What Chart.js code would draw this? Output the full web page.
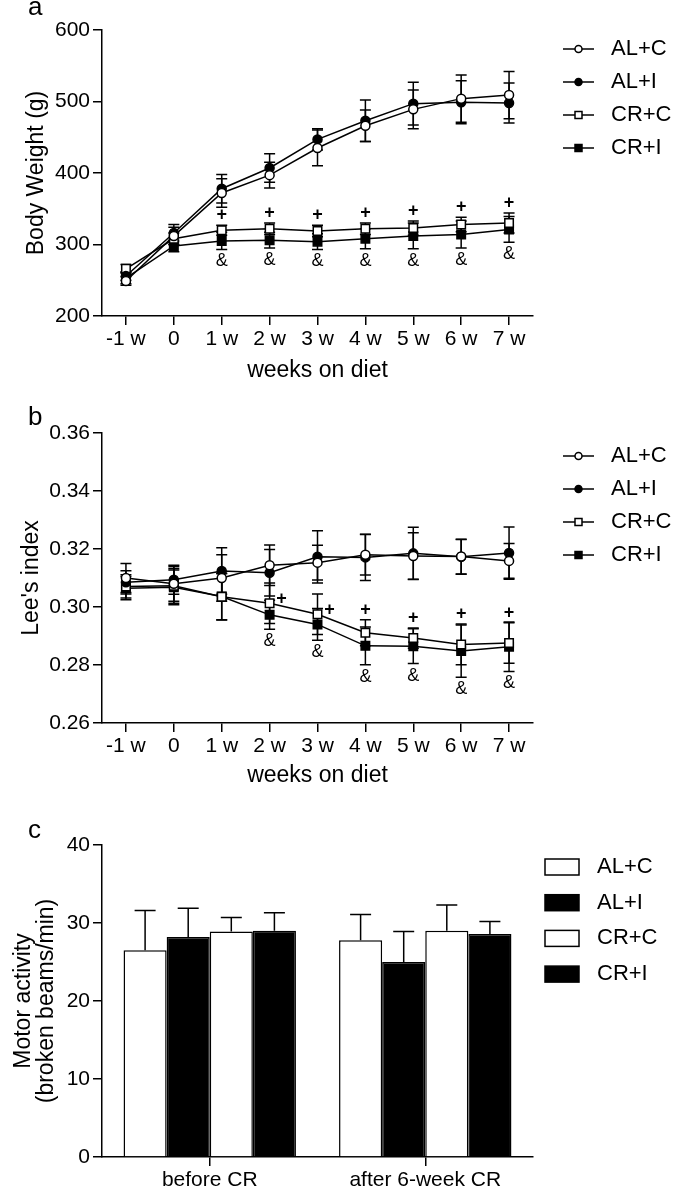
<!DOCTYPE html>
<html>
<head>
<meta charset="utf-8">
<script src="https://cdn.jsdelivr.net/npm/chart.js@4.4.1/dist/chart.umd.min.js"></script>
<style>
    html, body { margin: 0; padding: 0; background: #fff; }
    #page { position: relative; width: 675px; height: 1189px; overflow: hidden; }
    #page canvas { position: absolute; left: 0; display: block; }
</style>
</head>
<body>
<div id="page">
    <canvas id="chartA" width="675" height="395" style="top:0"></canvas>
    <canvas id="chartB" width="675" height="405" style="top:395px"></canvas>
    <canvas id="chartC" width="675" height="389" style="top:800px"></canvas>
</div>
<script>
// ---- data ----
const weeks = ['-1 w', '0', '1 w', '2 w', '3 w', '4 w', '5 w', '6 w', '7 w'];
const groups = ['AL+C', 'AL+I', 'CR+C', 'CR+I'];

// a: body weight (g), mean and SEM
const bwTicks = [200, 300, 400, 500, 600];
const bwALC = [249, 312, 372, 397, 435, 466, 489, 504, 509];
const bwALCErr = [6, 12, 20, 18, 25, 22, 27, 33, 33];
const bwALI = [256, 316, 378, 407, 447, 473, 497, 499, 498];
const bwALIErr = [6, 12, 20, 20, 15, 29, 30, 30, 28];
const bwCRC = [266, 308, 320, 322, 319, 322, 323, 328, 330];
const bwCRCErr = [6, 8, 7, 8, 8, 8, 10, 10, 14];
const bwCRI = [253, 298, 305, 306, 304, 308, 312, 314, 321];
const bwCRIErr = [8, 8, 12, 11, 11, 14, 18, 19, 18];
const bwPlusWeeks = ['1 w', '2 w', '3 w', '4 w', '5 w', '6 w', '7 w'];
const bwAmpWeeks = ['1 w', '2 w', '3 w', '4 w', '5 w', '6 w', '7 w'];

// b: Lee's index, mean and SEM
const leeTicks = [0.26, 0.28, 0.30, 0.32, 0.34, 0.36];
const leeALC = [0.3100, 0.3080, 0.3100, 0.3144, 0.3153, 0.3180, 0.3176, 0.3174, 0.3159];
const leeALCErr = [0.005, 0.006, 0.008, 0.007, 0.006, 0.007, 0.008, 0.006, 0.006];
const leeALI = [0.3085, 0.3094, 0.3124, 0.3118, 0.3173, 0.3171, 0.3185, 0.3173, 0.3186];
const leeALIErr = [0.004, 0.005, 0.008, 0.008, 0.009, 0.008, 0.009, 0.006, 0.009];
const leeCRC = [0.3071, 0.3073, 0.3035, 0.3013, 0.2975, 0.2911, 0.2893, 0.2871, 0.2876];
const leeCRCErr = [0.004, 0.006, 0.008, 0.007, 0.007, 0.0045, 0.0035, 0.007, 0.007];
const leeCRI = [0.3065, 0.3068, 0.3036, 0.2973, 0.2940, 0.2866, 0.2865, 0.2848, 0.2863];
const leeCRIErr = [0.004, 0.006, 0.008, 0.005, 0.0055, 0.0065, 0.006, 0.009, 0.0085];
const leePlusBeside = ['2 w', '3 w'];
const leePlusAbove = ['4 w', '5 w', '6 w', '7 w'];
const leeAmpWeeks = ['2 w', '3 w', '4 w', '5 w', '6 w', '7 w'];

// c: motor activity (broken beams/min), mean and SEM
const periods = ['before CR', 'after 6-week CR'];
const actTicks = [0, 10, 20, 30, 40];
const actALC = [26.5, 27.8];
const actALCErr = [5.1, 3.3];
const actALI = [28.2, 25.0];
const actALIErr = [3.7, 3.9];
const actCRC = [28.9, 29.0];
const actCRCErr = [1.8, 3.3];
const actCRI = [29.0, 28.6];
const actCRIErr = [2.3, 1.6];

// ---- drawing ----
const FONT = '"Liberation Sans", Arial, Helvetica, sans-serif';
Chart.defaults.font.family = FONT;
Chart.defaults.color = '#000';
Chart.defaults.animation = false;

function drawErrors(chart, upperOnly, capHalf) {
    const ctx = chart.ctx;
    const ys = chart.scales.y;
    ctx.save();
    ctx.strokeStyle = '#000';
    ctx.lineWidth = 1.5;
    chart.data.datasets.forEach((ds, di) => {
        if (!ds.errors) return;
        const meta = chart.getDatasetMeta(di);
        meta.data.forEach((el, i) => {
            const v = ds.data[i];
            const e = ds.errors[i];
            const x = el.x;
            const top = ys.getPixelForValue(v + e);
            const bot = ys.getPixelForValue(upperOnly ? v : v - e);
            ctx.beginPath();
            ctx.moveTo(x, top);
            ctx.lineTo(x, bot);
            ctx.moveTo(x - capHalf, top);
            ctx.lineTo(x + capHalf, top);
            if (!upperOnly) {
                ctx.moveTo(x - capHalf, bot);
                ctx.lineTo(x + capHalf, bot);
            }
            ctx.stroke();
        });
    });
    ctx.restore();
}

const errorBars = {
    id: 'errorBars',
    beforeDatasetsDraw(chart, args, o) {
        if (o.kind === 'line') drawErrors(chart, false, 5.5);
    },
    afterDatasetsDraw(chart, args, o) {
        if (o.kind === 'bar') drawErrors(chart, true, 10.5);
    }
};

// "+" and "&" significance marks, placed off the error bar ends
const sigMarks = {
    id: 'sigMarks',
    afterDatasetsDraw(chart, args, o) {
        if (!o.marks) return;
        const ctx = chart.ctx;
        const ys = chart.scales.y;
        ctx.save();
        ctx.fillStyle = '#000';
        ctx.textAlign = 'center';
        ctx.textBaseline = 'middle';
        o.marks.forEach((m) => {
            const ds = chart.data.datasets[m.dataset];
            const meta = chart.getDatasetMeta(m.dataset);
            ctx.font = m.text === '+' ? `bold 18px ${FONT}` : `18px ${FONT}`;
            m.at.forEach((label) => {
                const i = chart.data.labels.indexOf(label);
                const el = meta.data[i];
                const v = ds.data[i];
                const e = ds.errors[i];
                let x = el.x;
                let y;
                if (m.place === 'above') y = ys.getPixelForValue(v + e) - 10;
                else if (m.place === 'below') y = ys.getPixelForValue(v - e) + 12;
                else { x = el.x + 12; y = el.y - 4; }
                ctx.fillText(m.text, x, y);
            });
        });
        ctx.restore();
    }
};

const sideLegend = {
    id: 'sideLegend',
    afterDraw(chart, args, o) {
        const ctx = chart.ctx;
        ctx.save();
        ctx.strokeStyle = '#000';
        ctx.lineWidth = 1.5;
        ctx.textBaseline = 'middle';
        ctx.font = `22px ${FONT}`;
        chart.data.datasets.forEach((ds, i) => {
            const y = o.top + i * o.step;
            if (o.kind === 'line') {
                ctx.beginPath();
                ctx.moveTo(o.x, y);
                ctx.lineTo(o.x + 31, y);
                ctx.stroke();
                const cx = o.x + 15.5;
                ctx.beginPath();
                if (ds.pointStyle === 'rect') ctx.rect(cx - 3.5, y - 3.5, 7, 7);
                else ctx.arc(cx, y, 3.5, 0, Math.PI * 2);
                ctx.fillStyle = ds.pointBackgroundColor;
                ctx.fill();
                ctx.stroke();
            } else {
                ctx.fillStyle = ds.backgroundColor;
                ctx.fillRect(o.x, y - 8, 34, 16);
                ctx.strokeRect(o.x, y - 8, 34, 16);
            }
            ctx.fillStyle = '#000';
            ctx.fillText(ds.label, o.textX, y);
        });
        ctx.font = `26px ${FONT}`;
        ctx.textBaseline = 'alphabetic';
        ctx.fillText(o.letter, 28, o.letterY);
        ctx.restore();
    }
};

function axisGrid() {
    return { display: true, drawOnChartArea: false, drawTicks: true, tickLength: 9, color: '#000', lineWidth: 1.5, offset: false };
}

function lineSet(label, data, errors, style, fill) {
    return {
        label, data, errors,
        borderColor: '#000', borderWidth: 1.5,
        pointStyle: style, pointRadius: style === 'rect' ? 6 : 4.5,
        pointBorderColor: '#000', pointBorderWidth: 1.5,
        pointBackgroundColor: fill, tension: 0, clip: false
    };
}

function lineChart(id, sets, ticks, fmt, yTitle, yTitlePad, areaTop, xHeight, legendTop, letter, letterY, marks) {
    return new Chart(document.getElementById(id), {
        type: 'line',
        data: { labels: weeks, datasets: sets },
        options: {
            responsive: false,
            layout: { padding: { left: 0, right: 142, top: areaTop, bottom: 0 } },
            plugins: {
                legend: { display: false },
                tooltip: { enabled: false },
                errorBars: { kind: 'line' },
                sigMarks: { marks },
                sideLegend: { kind: 'line', x: 563, textX: 611, top: legendTop, step: 33, letter, letterY }
            },
            scales: {
                x: {
                    type: 'category', offset: true,
                    grid: axisGrid(),
                    border: { display: true, color: '#000', width: 1.5 },
                    ticks: { color: '#000', font: { size: 21 }, padding: 2, autoSkip: false, maxRotation: 0, minRotation: 0 },
                    title: { display: true, text: 'weeks on diet', color: '#000', font: { size: 23 }, padding: { top: 0, bottom: 11 } },
                    afterFit(s) { s.height = xHeight; }
                },
                y: {
                    type: 'linear', min: ticks[0], max: ticks[ticks.length - 1],
                    afterBuildTicks(s) { s.ticks = ticks.map((v) => ({ value: v })); },
                    grid: axisGrid(),
                    border: { display: true, color: '#000', width: 1.5 },
                    ticks: { color: '#000', font: { size: 21 }, padding: 3, callback: fmt },
                    title: { display: true, text: yTitle, color: '#000', font: { size: 23 }, padding: { top: yTitlePad, bottom: 0 } },
                    afterFit(s) { s.width = 102; }
                }
            }
        },
        plugins: [errorBars, sigMarks, sideLegend]
    });
}

lineChart('chartA', [
    lineSet(groups[0], bwALC, bwALCErr, 'circle', '#fff'),
    lineSet(groups[1], bwALI, bwALIErr, 'circle', '#000'),
    lineSet(groups[2], bwCRC, bwCRCErr, 'rect', '#fff'),
    lineSet(groups[3], bwCRI, bwCRIErr, 'rect', '#000')
], bwTicks, (v) => String(v), 'Body Weight (g)', 23, 30, 79, 49, 'a', 15, [
    { dataset: 2, text: '+', place: 'above', at: bwPlusWeeks },
    { dataset: 3, text: '&', place: 'below', at: bwAmpWeeks }
]);

lineChart('chartB', [
    lineSet(groups[0], leeALC, leeALCErr, 'circle', '#fff'),
    lineSet(groups[1], leeALI, leeALIErr, 'circle', '#000'),
    lineSet(groups[2], leeCRC, leeCRCErr, 'rect', '#fff'),
    lineSet(groups[3], leeCRI, leeCRIErr, 'rect', '#000')
], leeTicks, (v) => Number(v).toFixed(2), "Lee's index", 18, 38, 77, 61, 'b', 30, [
    { dataset: 2, text: '+', place: 'beside', at: leePlusBeside },
    { dataset: 2, text: '+', place: 'above', at: leePlusAbove },
    { dataset: 3, text: '&', place: 'below', at: leeAmpWeeks }
]);

function barSet(label, data, errors, fill) {
    return { label, data, errors, backgroundColor: fill, borderColor: '#000', borderWidth: 1.5, categoryPercentage: 0.8, barPercentage: 1.0 };
}

new Chart(document.getElementById('chartC'), {
    type: 'bar',
    data: {
        labels: periods,
        datasets: [
            barSet(groups[0], actALC, actALCErr, '#fff'),
            barSet(groups[1], actALI, actALIErr, '#000'),
            barSet(groups[2], actCRC, actCRCErr, '#fff'),
            barSet(groups[3], actCRI, actCRIErr, '#000')
        ]
    },
    options: {
        responsive: false,
        layout: { padding: { left: 0, right: 142, top: 45, bottom: 0 } },
        plugins: {
            legend: { display: false },
            tooltip: { enabled: false },
            errorBars: { kind: 'bar' },
            sigMarks: {},
            sideLegend: { kind: 'bar', x: 545, textX: 597, top: 67, step: 35.7, letter: 'c', letterY: 38 }
        },
        scales: {
            x: {
                type: 'category', offset: true,
                grid: axisGrid(),
                border: { display: true, color: '#000', width: 1.5 },
                ticks: { color: '#000', font: { size: 21 }, padding: 2, maxRotation: 0, minRotation: 0 },
                afterFit(s) { s.height = 32; }
            },
            y: {
                type: 'linear', min: actTicks[0], max: actTicks[actTicks.length - 1],
                afterBuildTicks(s) { s.ticks = actTicks.map((v) => ({ value: v })); },
                grid: axisGrid(),
                border: { display: true, color: '#000', width: 1.5 },
                ticks: { color: '#000', font: { size: 21 }, padding: 3 },
                title: { display: true, text: ['Motor activity', '(broken beams/min)'], color: '#000', font: { size: 23, lineHeight: 1.0 }, padding: { top: 12, bottom: 0 } },
                afterFit(s) { s.width = 102; }
            }
        }
    },
    plugins: [errorBars, sigMarks, sideLegend]
});
</script>
</body>
</html>
